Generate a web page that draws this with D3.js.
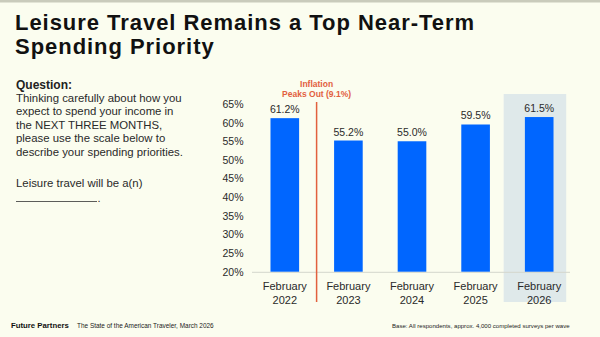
<!DOCTYPE html>
<html>
<head>
<meta charset="utf-8">
<script src="https://cdn.jsdelivr.net/npm/d3@7"></script>
<style>
  html, body { margin: 0; padding: 0; background: #fbfdef; }
  svg { display: block; }
  text { font-family: "Liberation Sans", Arial, sans-serif; fill: #222; }
</style>
</head>
<body>
<div id="chart"></div>
<script>
// Survey waves and share saying leisure travel is a priority
const waveMonths = ["February", "February", "February", "February", "February"];
const waveYears = ["2022", "2023", "2024", "2025", "2026"];
const priorityShare = [61.2, 55.2, 55.0, 59.5, 61.5];
const yTicks = [20, 25, 30, 35, 40, 45, 50, 55, 60, 65];
const highlightYear = "2026";
const inflationLines = ["Inflation", "Peaks Out (9.1%)"];

const titleLines = ["Leisure Travel Remains a Top Near-Term", "Spending Priority"];
const questionLines = [
    "Thinking carefully about how you",
    "expect to spend your income in",
    "the NEXT THREE MONTHS,",
    "please use the scale below to",
    "describe your spending priorities."
];

const width = 600, height = 337;
const blue = "#0066ff", orange = "#e2603e", shade = "#dfe9ea";

const svg = d3.select("#chart").append("svg")
    .attr("width", width)
    .attr("height", height);

svg.append("rect").attr("width", width).attr("height", height).attr("fill", "#fbfdef");
svg.append("rect").attr("width", width).attr("height", 2.5).attr("fill", "#c9cbbb");

// scale a text's font size so it spans the wanted width, returns the new size
function fitWidth(sel, target) {
    const node = sel.node();
    const fs = parseFloat(sel.style("font-size"));
    const size = fs * target / node.getComputedTextLength();
    sel.style("font-size", size + "px");
    return size;
}

// Title: fixed size, letter spacing widened so line one spans the width
const titleG = svg.append("g");
titleLines.forEach((t, i) => {
    titleG.append("text")
        .attr("x", 15).attr("y", 29.5 + i * 24.5)
        .style("font-size", "22px").style("font-weight", "bold")
        .style("fill", "#111").text(t);
});
const first = titleG.select("text").node();
const spacing = (459 - first.getComputedTextLength()) / (titleLines[0].length - 1);
titleG.selectAll("text").style("letter-spacing", spacing + "px");

// Question block
svg.append("text").attr("x", 16).attr("y", 88.5)
    .style("font-size", "12px").style("font-weight", "bold").text("Question:");
const qText = svg.append("g");
questionLines.forEach((t, i) => {
    qText.append("text").attr("x", 16).attr("y", 102 + i * 13.4)
        .style("font-size", "12px").style("fill", "#2a2a2a").text(t);
});
const qSize = fitWidth(qText.select("text"), 166);
qText.selectAll("text").style("font-size", qSize + "px");

svg.append("text").attr("x", 16).attr("y", 186.8)
    .style("font-size", qSize + "px")
    .style("fill", "#2a2a2a").text("Leisure travel will be a(n)");
svg.append("line").attr("x1", 16).attr("x2", 97).attr("y1", 201.5).attr("y2", 201.5)
    .attr("stroke", "#333").attr("stroke-width", 0.8);
svg.append("text").attr("x", 97.5).attr("y", 201.5)
    .style("font-size", "11px").style("fill", "#2a2a2a").text(".");

// Scales
const x = d3.scaleBand()
    .domain(waveYears)
    .range([253, 571])
    .paddingInner(0.55)
    .paddingOuter(0.275);

const y = d3.scaleLinear()
    .domain([20, 65])
    .range([271.7, 104]);

const cx = d => x(d) + x.bandwidth() / 2;

// Highlighted latest wave
svg.append("rect")
    .attr("x", cx(highlightYear) - 35.5)
    .attr("y", 94)
    .attr("width", 62.5)
    .attr("height", 208)
    .attr("fill", shade);

// Baseline
svg.append("line")
    .attr("x1", 252).attr("x2", 570)
    .attr("y1", y(20) + 0.6).attr("y2", y(20) + 0.6)
    .attr("stroke", "#d4d6cc").attr("stroke-width", 1);

// Y axis labels only
const yAxis = d3.axisLeft(y).tickValues(yTicks).tickFormat(d => d + "%").tickSize(0).tickPadding(0);
const yg = svg.append("g").attr("transform", "translate(243.5,0)").call(yAxis);
yg.select(".domain").remove();
yg.selectAll("text").style("font-size", "10.5px").style("fill", "#2a2a2a").attr("font-family", null);

// Bars
svg.selectAll("rect.bar")
    .data(priorityShare)
    .join("rect")
    .attr("class", "bar")
    .attr("x", (d, i) => x(waveYears[i]))
    .attr("y", d => y(d))
    .attr("width", x.bandwidth())
    .attr("height", d => y(20) - y(d))
    .attr("fill", blue);

// Value labels
svg.selectAll("text.value")
    .data(priorityShare)
    .join("text")
    .attr("class", "value")
    .attr("x", (d, i) => cx(waveYears[i]))
    .attr("y", d => y(d) - 5)
    .attr("text-anchor", "middle")
    .style("font-size", "10.5px")
    .style("fill", "#2a2a2a")
    .text(d => d.toFixed(1) + "%");

// X axis labels (two lines)
const xg = svg.append("g");
waveYears.forEach((yr, i) => {
    const t = xg.append("text")
        .attr("x", cx(yr)).attr("y", 290)
        .attr("text-anchor", "middle")
        .style("font-size", "11px")
        .style("fill", "#2a2a2a");
    t.append("tspan").attr("x", cx(yr)).text(waveMonths[i]);
    t.append("tspan").attr("x", cx(yr)).attr("dy", 14).text(yr);
});

// Inflation marker between 2022 and 2023
const markX = (cx(waveYears[0]) + cx(waveYears[1])) / 2;
svg.append("line")
    .attr("x1", markX).attr("x2", markX)
    .attr("y1", 102).attr("y2", 302)
    .attr("stroke", orange).attr("stroke-width", 1.5);
inflationLines.forEach((t, i) => {
    svg.append("text")
        .attr("x", markX).attr("y", 87 + i * 10)
        .attr("text-anchor", "middle")
        .style("font-size", "8.5px").style("font-weight", "bold")
        .style("fill", orange).text(t);
});

// Footer
const brand = svg.append("text").attr("x", 11).attr("y", 328)
    .style("font-size", "8px").style("font-weight", "bold")
    .style("fill", "#111").text("Future Partners");
fitWidth(brand, 58);
const source = svg.append("text").attr("x", 77).attr("y", 328)
    .style("font-size", "6.5px").style("fill", "#222")
    .text("The State of the American Traveler, March 2026");
fitWidth(source, 137);
const base = svg.append("text").attr("x", 392).attr("y", 328)
    .style("font-size", "6.5px").style("fill", "#222")
    .text("Base: All respondents, approx. 4,000 completed surveys per wave");
fitWidth(base, 178);
</script>
</body>
</html>
